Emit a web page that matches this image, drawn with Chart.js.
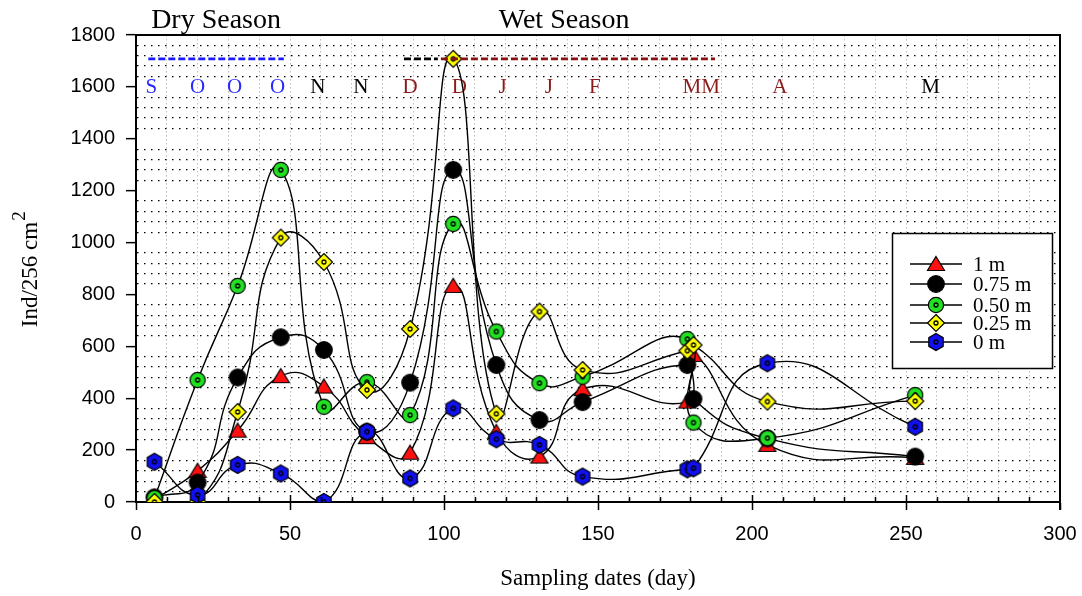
<!DOCTYPE html>
<html>
<head>
<meta charset="utf-8">
<title>Ind/256 cm2 vs sampling dates</title>
<script src="https://cdn.jsdelivr.net/npm/chart.js@4.4.1/dist/chart.umd.min.js"></script>
<style>
  html, body { margin: 0; padding: 0; background: #fff; }
  #wrap { width: 1082px; height: 596px; }
</style>
</head>
<body>
<div id="wrap"><canvas id="chart" width="1082" height="596"></canvas></div>
<script>
// sampling days (x) and densities per depth
var days = [6, 20, 33, 47, 61, 75, 89, 103, 117, 131, 145, 179, 181, 205, 253];
var depth100 = [10, 120, 275, 485, 445, 250, 190, 833, 270, 175, 435, 387, 567, 220, 170];
var depth075 = [18, 75, 480, 635, 586, 271, 460, 1280, 528, 316, 385, 528, 397, 245, 175];
var depth050 = [15, 470, 833, 1280, 367, 462, 335, 1072, 657, 458, 483, 628, 306, 246, 412];
var depth025 = [0, 0, 347, 1019, 925, 432, 667, 1708, 340, 734, 509, 583, 605, 387, 389];
var depth000 = [155, 27, 143, 110, 0, 271, 91, 361, 242, 220, 98, 126, 130, 535, 290];

var seriesNames = ['1 m', '0.75 m', '0.50 m', '0.25 m', '0 m'];

// month letters along the top
var monthLabels = ['S', 'O', 'O', 'O', 'N', 'N', 'D', 'D', 'J', 'J', 'F', 'MM', 'A', 'M'];
var monthDays = [5, 20, 32, 46, 59, 73, 89, 105, 119, 134, 149, 183.5, 209, 258];
var monthColors = ['#2a2aff', '#2a2aff', '#2a2aff', '#2a2aff', '#000', '#000', '#8b1a1a', '#8b1a1a',
                   '#8b1a1a', '#8b1a1a', '#8b1a1a', '#8b1a1a', '#8b1a1a', '#000'];
var monthLevel = 1597;

// season bars
var seasonNames = ['Dry Season', 'Wet Season'];
var seasonCenters = [26, 139];
var seasonLevel = 1708;
var dryBar = [4, 48];
var wetBarLead = [87, 98];
var wetBar = [99, 188];

var xMin = 0, xMax = 300, xStep = 10, xLabelStep = 50;
var yMin = 0, yMax = 1800, yStep = 40, yLabelStep = 200;

var serif = '"Liberation Serif", "DejaVu Serif", serif';
var sans = '"Liberation Sans", Arial, sans-serif';

function marker(kind, fill, dot) {
    var s = 20, m = 10;
    var c = document.createElement('canvas');
    c.width = s; c.height = s;
    var g = c.getContext('2d');
    g.fillStyle = fill;
    g.strokeStyle = '#000';
    g.lineWidth = 1.2;
    g.beginPath();
    if (kind === 'triangle') {
        g.moveTo(m, 2.5); g.lineTo(m + 8.5, 16.5); g.lineTo(m - 8.5, 16.5); g.closePath();
    } else if (kind === 'diamond') {
        g.moveTo(m, 1.5); g.lineTo(m + 8.5, m); g.lineTo(m, s - 1.5); g.lineTo(m - 8.5, m); g.closePath();
    } else if (kind === 'hexagon') {
        for (var i = 0; i < 6; i++) {
            var a = (-90 + 60 * i) * Math.PI / 180;
            var px = m + 8.3 * Math.cos(a), py = m + 8.6 * Math.sin(a);
            if (i === 0) g.moveTo(px, py); else g.lineTo(px, py);
        }
        g.closePath();
    } else {
        g.arc(m, m, kind === 'bigcircle' ? 8.3 : 7.6, 0, Math.PI * 2);
    }
    g.fill();
    g.stroke();
    if (dot) {
        g.beginPath();
        g.lineWidth = 1.3;
        g.arc(m, m, 2, 0, Math.PI * 2);
        g.stroke();
    }
    return c;
}

var markers = [
    marker('triangle', '#ff1010', false),
    marker('bigcircle', '#000', false),
    marker('circle', '#22e022', true),
    marker('diamond', '#ffff00', true),
    marker('hexagon', '#1010f0', true)
];

function pts(values) {
    return days.map(function (d, i) { return { x: d, y: values[i] }; });
}

function bar(span, color) {
    return {
        data: [{ x: span[0], y: seasonLevel }, { x: span[1], y: seasonLevel }],
        borderColor: color,
        borderWidth: 2.8,
        borderDash: [7, 3],
        pointRadius: 0,
        tension: 0,
        order: 0
    };
}

var allSeries = [depth100, depth075, depth050, depth025, depth000];
var datasets = allSeries.map(function (vals, i) {
    return {
        label: seriesNames[i],
        data: pts(vals),
        borderColor: '#000',
        borderWidth: 1.4,
        tension: 0.5,
        pointStyle: markers[i],
        pointRadius: 9,
        pointHoverRadius: 9,
        order: 5 - i
    };
});
datasets.push(bar(dryBar, '#1a1aff'));
datasets.push(bar(wetBarLead, '#000'));
datasets.push(bar(wetBar, '#8b1010'));

var decor = {
    id: 'decor',
    beforeDatasetsDraw: function (chart) {
        var ctx = chart.ctx, xs = chart.scales.x, ys = chart.scales.y;
        ctx.save();
        ctx.font = '21px ' + serif;
        ctx.textAlign = 'center';
        ctx.textBaseline = 'middle';
        var yy = ys.getPixelForValue(monthLevel);
        monthLabels.forEach(function (t, i) {
            ctx.fillStyle = monthColors[i];
            ctx.fillText(t, xs.getPixelForValue(monthDays[i]), yy);
        });
        ctx.restore();
    },
    afterDraw: function (chart) {
        var ctx = chart.ctx, ca = chart.chartArea, xs = chart.scales.x;
        ctx.save();

        // frame top and right
        ctx.strokeStyle = '#000';
        ctx.lineWidth = 2;
        ctx.beginPath();
        ctx.moveTo(ca.left - 1, ca.top);
        ctx.lineTo(ca.right, ca.top);
        ctx.lineTo(ca.right, ca.bottom + 8);
        ctx.stroke();

        // inside ticks on x
        ctx.lineWidth = 1.5;
        for (var d = xMin + xStep; d < xMax; d += xStep) {
            var px = Math.round(xs.getPixelForValue(d)) + 0.5;
            var len = d % xLabelStep === 0 ? 7 : 5;
            ctx.beginPath();
            ctx.moveTo(px, ca.bottom);
            ctx.lineTo(px, ca.bottom - len);
            ctx.stroke();
        }

        // season titles
        ctx.fillStyle = '#000';
        ctx.font = '28px ' + serif;
        ctx.textAlign = 'center';
        ctx.textBaseline = 'middle';
        seasonNames.forEach(function (t, i) {
            ctx.fillText(t, xs.getPixelForValue(seasonCenters[i]), ca.top - 14);
        });

        // axis titles
        ctx.font = '23px ' + serif;
        ctx.fillText('Sampling dates (day)', (ca.left + ca.right) / 2, 579);
        ctx.save();
        ctx.translate(31, (ca.top + ca.bottom) / 2);
        ctx.rotate(-Math.PI / 2);
        ctx.textAlign = 'left';
        var main = 'Ind/256 cm';
        var w = ctx.measureText(main).width;
        var w2 = 12;
        ctx.fillText(main, -(w + w2) / 2, 0);
        ctx.font = '19px ' + serif;
        ctx.fillText('2', -(w + w2) / 2 + w + 1, -11);
        ctx.restore();

        // legend
        var lx = 892.5, ly = 233.5, lw = 160, lh = 135;
        ctx.fillStyle = '#fff';
        ctx.fillRect(lx, ly, lw, lh);
        ctx.strokeStyle = '#000';
        ctx.lineWidth = 1.5;
        ctx.strokeRect(lx, ly, lw, lh);
        var rows = [264, 284, 305, 323, 342];
        ctx.font = '21px ' + serif;
        ctx.textAlign = 'left';
        ctx.textBaseline = 'middle';
        seriesNames.forEach(function (name, i) {
            var ry = rows[i];
            ctx.lineWidth = 1.4;
            ctx.beginPath();
            ctx.moveTo(910, ry);
            ctx.lineTo(962, ry);
            ctx.stroke();
            ctx.drawImage(markers[i], 936 - 10, ry - 10);
            ctx.fillStyle = '#000';
            ctx.fillText(name, 973, ry + 1);
        });
        ctx.restore();
    }
};

new Chart(document.getElementById('chart'), {
    type: 'line',
    data: { datasets: datasets },
    options: {
        responsive: false,
        animation: false,
        events: [],
        layout: { padding: { top: 35, right: 22, left: 0, bottom: 0 } },
        plugins: { legend: { display: false }, tooltip: { enabled: false } },
        scales: {
            x: {
                type: 'linear',
                min: xMin,
                max: xMax,
                afterFit: function (scale) {
                    scale.height = 94;
                    // keep the plot edge fixed, the end labels fit in the margin
                    scale.paddingLeft = 0;
                    scale.paddingRight = 0;
                },
                ticks: {
                    stepSize: xStep,
                    autoSkip: false,
                    maxRotation: 0,
                    padding: 12,
                    color: '#000',
                    font: { family: sans, size: 20 },
                    callback: function (v) { return v % xLabelStep === 0 ? v : ''; }
                },
                grid: {
                    color: function (c) {
                        var v = c.tick ? c.tick.value : 0;
                        return (v === xMin || v === xMax) ? 'rgba(0,0,0,0)' : '#bdbdbd';
                    },
                    lineWidth: 1,
                    tickColor: function (c) {
                        return c.tick && c.tick.value % xLabelStep === 0 ? '#000' : 'rgba(0,0,0,0)';
                    },
                    tickLength: 8,
                    tickWidth: 1.5
                },
                border: { color: '#000', width: 2, dash: [1.5, 2.5] }
            },
            y: {
                min: yMin,
                max: yMax,
                afterFit: function (scale) { scale.width = 136; },
                ticks: {
                    stepSize: yStep,
                    autoSkip: false,
                    padding: 11,
                    color: '#000',
                    font: { family: sans, size: 20 },
                    callback: function (v) { return Math.round(v) % yLabelStep === 0 ? Math.round(v) : ''; }
                },
                grid: {
                    color: function (c) {
                        var v = c.tick ? Math.round(c.tick.value) : 0;
                        return v % yLabelStep === 0 ? 'rgba(0,0,0,0)' : '#000';
                    },
                    lineWidth: 1.3,
                    tickColor: function (c) {
                        return c.tick && Math.round(c.tick.value) % yLabelStep === 0 ? '#000' : 'rgba(0,0,0,0)';
                    },
                    tickLength: 10,
                    tickWidth: 1.5
                },
                border: { color: '#000', width: 2, dash: [1.5, 5.5] }
            }
        }
    },
    plugins: [decor]
});
</script>
</body>
</html>
